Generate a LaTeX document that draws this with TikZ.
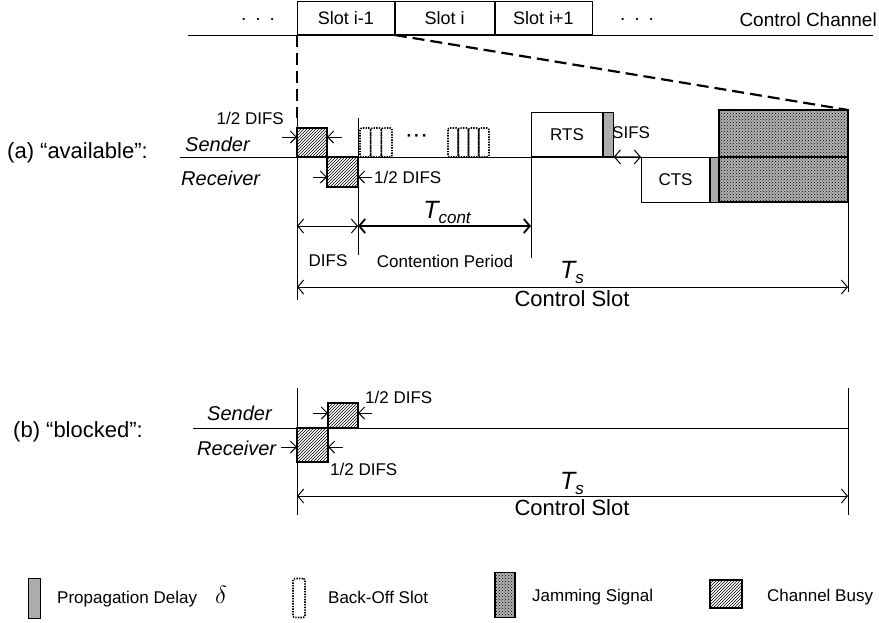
\documentclass[tikz,border=0pt]{standalone}
\usepackage{fontspec}
\setmainfont{Liberation Sans}
\usepackage{tikz}
\usetikzlibrary{arrows.meta,positioning,patterns}

\begin{document}
\begin{tikzpicture}[
x=1pt, y=-1pt,
txt/.style={font=\fontsize{17}{20}\selectfont, inner sep=0pt},
title/.style={font=\fontsize{22}{26}\selectfont, inner sep=0pt},
who/.style={font=\fontsize{20}{24}\selectfont\itshape, inner sep=0pt},
period/.style={font=\fontsize{25}{28}\selectfont\itshape, inner sep=0pt},
slotbox/.style={draw, line width=0.8pt, minimum height=33pt, inner sep=0pt, font=\fontsize{18}{21}\selectfont},
frame/.style={draw, line width=1pt, inner sep=0pt, font=\fontsize{17}{20}\selectfont},
busy/.style={draw, line width=1.2pt, pattern=north east lines},
jam/.style={draw, line width=1.2pt, preaction={fill=gray!60}, pattern=crosshatch dots},
delay/.style={draw, line width=0.8pt, fill=gray!65, inner sep=0pt},
backoff/.style={draw, line width=1.6pt, dash pattern=on 1.4pt off 1.2pt, rounded corners=2pt, inner sep=0pt},
axis/.style={line width=1pt},
guide/.style={line width=2.2pt, dash pattern=on 12pt off 6pt},
dim/.style={{Straight Barb[length=6pt,width=14pt]}-{Straight Barb[length=6pt,width=14pt]}, line width=1pt},
push/.style={-{Straight Barb[length=6pt,width=12pt]}, line width=1pt}
]
\useasboundingbox (0,0) rectangle (879,622);

% --- Control channel ---
\draw[axis] (188,35) -- (873,35);
\node[slotbox, minimum width=97pt, anchor=south west] (slotprev) at (297,35) {Slot i-1};
\node[slotbox, minimum width=99pt, right=0pt of slotprev] (slotcur) {Slot i};
\node[slotbox, minimum width=97pt, right=0pt of slotcur] (slotnext) {Slot i+1};
\node[font=\fontsize{19}{22}\selectfont, inner sep=0pt] (dotsleft) at (258,19) {.\hspace{9pt}.\hspace{9pt}.};
\node[font=\fontsize{19}{22}\selectfont, inner sep=0pt] (dotsright) at (637,19) {.\hspace{9pt}.\hspace{9pt}.};
\node[font=\fontsize{19}{22}\selectfont, inner sep=0pt, anchor=east] (channel) at (877,20) {Control Channel};

% --- Zoom guides ---
\draw[guide] (slotprev.south west) -- (297,118);
\draw[guide] (slotcur.south west) -- (848,110);

% --- (a) available ---
\node[title, anchor=west] (casea) at (7,153) {(a) “available”:};
\draw[axis] (180,157) -- (848,157);
\node[who, anchor=west] (senda) at (185,144) {Sender};
\node[who, anchor=west] (recva) at (181,178) {Receiver};

\draw[axis] (297,118) -- (297,300);
\draw[axis] (358,118) -- (358,255);
\draw[axis] (531,157) -- (531,258);
\draw[axis] (848,110) -- (848,292);

\draw[busy] (297,128) rectangle (327,157);
\draw[busy] (327,157) rectangle (358,187);
\draw[push] (282,137) -- (297,137);
\draw[push] (342,137) -- (327,137);
\node[txt, anchor=east] (halfsa) at (284,118) {1/2 DIFS};
\draw[push] (313,177) -- (327,177);
\draw[push] (372,177) -- (358,177);
\node[txt, anchor=west] (halfra) at (374,177) {1/2 DIFS};

\foreach \i in {0,1,2}
  \draw[backoff] ({360+10.67*\i},128) rectangle ++(10.67,29);
\foreach \i in {0,...,3}
  \draw[backoff] ({448+10.25*\i},128) rectangle ++(10.25,29);
\node[font=\bfseries\fontsize{17}{20}\selectfont, inner sep=0pt] (gap) at (417,138) {·\hspace{2pt}·\hspace{2pt}·};

\node[frame, minimum width=71pt, minimum height=44pt, anchor=south west] (rts) at (531,157) {RTS};
\node[delay, minimum width=10pt, minimum height=44pt, right=0pt of rts] (rtsdelay) {};
\node[txt, anchor=west] (sifs) at (612,133) {SIFS};
\node[frame, minimum width=68pt, minimum height=45pt, anchor=north west] (cts) at (641,157) {CTS};
\node[delay, minimum width=10pt, minimum height=45pt, right=0pt of cts] (ctsdelay) {};
\draw[dim] (rtsdelay.south east) -- (cts.north west);
\draw[jam] (719,110) rectangle (848,157);
\draw[jam] (719,157) rectangle (848,202);

\draw[dim] (297,226) -- (358,226);
\draw[dim, line width=1.8pt] (358,226) -- (531,226);
\node[period] (tconta) at (447,212) {T\raisebox{-5pt}{\fontsize{17}{20}\selectfont cont}};
\node[txt] (difsa) at (328,261) {DIFS};
\node[txt] (contention) at (445,261) {Contention Period};
\node[period] (tsa) at (572,272) {T\raisebox{-5pt}{\fontsize{17}{20}\selectfont s}};
\draw[dim] (297,287) -- (848,287);
\node[title] (slota) at (572,299) {Control Slot};

% --- (b) blocked ---
\node[title, anchor=west] (caseb) at (13,432) {(b) “blocked”:};
\draw[axis] (193,428) -- (848,428);
\node[who, anchor=west] (sendb) at (207,413) {Sender};
\node[who, anchor=west] (recvb) at (197,448) {Receiver};
\draw[axis] (297,388) -- (297,515);
\draw[axis] (848,388) -- (848,515);

\draw[busy] (328,403) rectangle (358,428);
\draw[busy] (297,428) rectangle (328,462);
\draw[push] (313,413) -- (328,413);
\draw[push] (372,413) -- (358,413);
\node[txt, anchor=west] (halfsb) at (365,397) {1/2 DIFS};
\draw[push] (281,447) -- (297,447);
\draw[push] (343,447) -- (328,447);
\node[txt, anchor=west] (halfrb) at (330,469) {1/2 DIFS};

\node[period] (tsb) at (572,483) {T\raisebox{-5pt}{\fontsize{17}{20}\selectfont s}};
\draw[dim] (297,496) -- (848,496);
\node[title] (slotb) at (572,508) {Control Slot};

% --- Legend ---
\node[delay, minimum width=12pt, minimum height=40pt] (keydelay) at (34,598) {};
\node[txt, anchor=west] (keydelaytxt) at (57,597) {Propagation Delay\hspace{18pt}{\fontsize{26}{28}\selectfont$\delta$}};
\node[backoff, minimum width=12pt, minimum height=39pt] (keyback) at (299,598) {};
\node[txt, anchor=west] (keybacktxt) at (328,597) {Back-Off Slot};
\node[jam, minimum width=20pt, minimum height=45pt] (keyjam) at (505,595) {};
\node[txt, anchor=west] (keyjamtxt) at (532,597) {Jamming Signal};
\node[busy, minimum width=32pt, minimum height=28pt] (keybusy) at (726,594) {};
\node[txt, anchor=west] (keybusytxt) at (767,597) {Channel Busy};

\end{tikzpicture}
\end{document}
